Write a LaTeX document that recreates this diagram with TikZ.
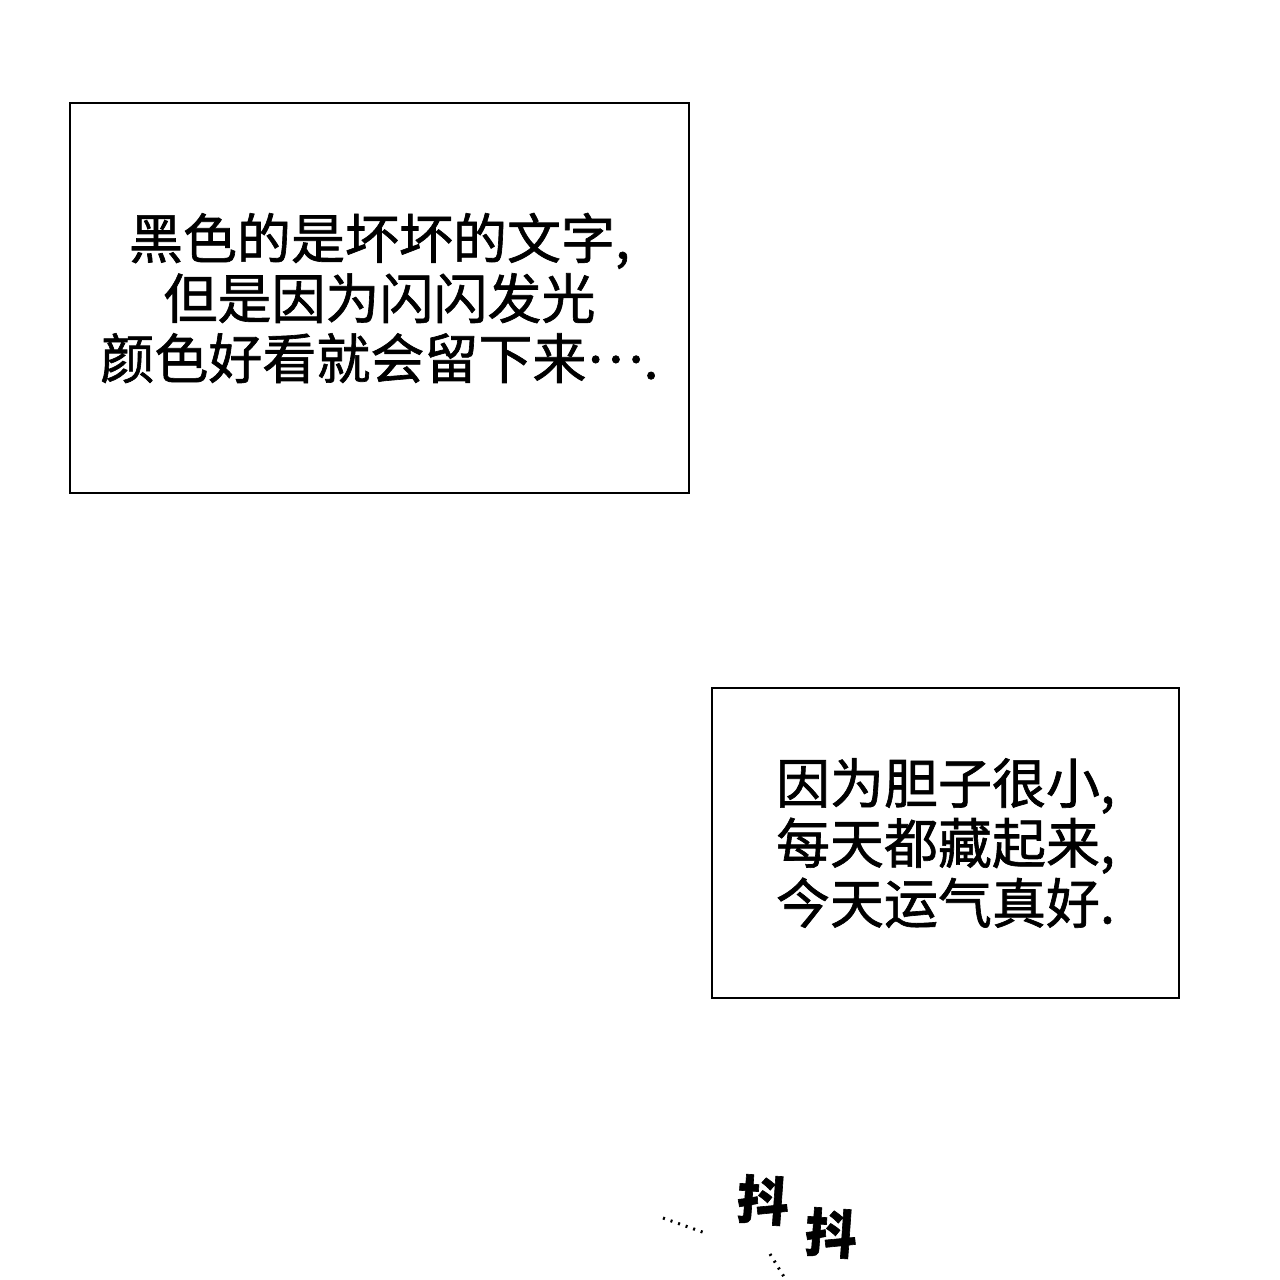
\documentclass[tikz,border=0pt]{standalone}
\usepackage{fontspec}
\newfontfamily\cjk{Noto Sans CJK SC}[FakeBold=1.2]
\usetikzlibrary{positioning}
\begin{document}
\begin{tikzpicture}[x=1pt,y=-1pt,
panel/.style={draw,line width=2.5pt,align=center,inner sep=0pt,
  font=\cjk\fontsize{54}{60}\selectfont},
shake/.style={font=\cjk\bfseries\fontsize{52}{52}\selectfont,inner sep=0pt}]
\useasboundingbox (0,0) rectangle (1280,1280);
\node[panel,minimum width=619pt,minimum height=390pt](top) at (379.5,298)
  {黑色的是坏坏的文字,\\但是因为闪闪发光\\颜色好看就会留下来\raisebox{0.3em}{…}.};
\node[panel,minimum width=467pt,minimum height=310pt](low) at (945.5,843)
  {因为胆子很小,\\每天都藏起来,\\今天运气真好.};
\node[shake,rotate=-4](s1) at (763,1200) {抖};
\node[shake,rotate=-4](s2) at (831,1233) {抖};
% trembling marks
\draw[dash pattern=on 2pt off 6pt,line width=3pt] (663,1218) -- (708,1234);
\draw[dash pattern=on 2pt off 6pt,line width=3pt] (770,1254) -- (786,1280);
\end{tikzpicture}
\end{document}
